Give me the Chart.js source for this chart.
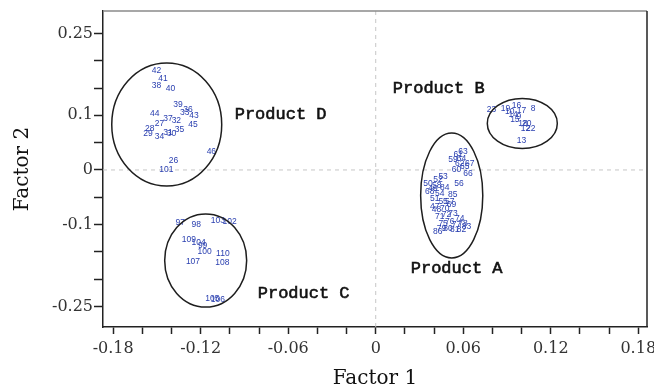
<!DOCTYPE html>
<html>
<head>
<meta charset="utf-8">
<script src="https://cdn.jsdelivr.net/npm/chart.js@4/dist/chart.umd.min.js"></script>
<style>
  html, body { margin: 0; padding: 0; background: #fff; }
  #wrap { width: 654px; height: 391px; }
</style>
</head>
<body>
<div id="wrap"><canvas id="c" width="654" height="391"></canvas></div>
<script>
// Factor scores (Factor 1, Factor 2) for each sample, grouped by product
const productAIds = [61,63,59,62,65,66,60,64,67,50,52,53,49,54,51,55,56,57,48,70,71,72,73,74,75,76,77,78,79,80,81,82,83,69,47,58,68,84,85,86];
const productAF1 = [0.0565,0.0599,0.0530,0.0576,0.0611,0.0633,0.0554,0.0588,0.0645,0.0359,0.0427,0.0462,0.0393,0.0439,0.0405,0.0462,0.0571,0.0508,0.0416,0.0473,0.0439,0.0485,0.0530,0.0576,0.0462,0.0508,0.0554,0.0599,0.0451,0.0496,0.0542,0.0588,0.0622,0.0519,0.0405,0.0418,0.0370,0.0473,0.0528,0.0425];
const productAF2 = [0.0275,0.0335,0.0183,0.0123,0.0060,-0.0060,0.0000,0.0214,0.0123,-0.0244,-0.0183,-0.0123,-0.0335,-0.0427,-0.0518,-0.0581,-0.0256,-0.0581,-0.0733,-0.0702,-0.0856,-0.0824,-0.0793,-0.0885,-0.0976,-0.0947,-0.1008,-0.0976,-0.1068,-0.1068,-0.1086,-0.1086,-0.1039,-0.0641,-0.0672,-0.0293,-0.0403,-0.0330,-0.0458,-0.1136];

const productBIds = [23,19,16,17,8,10,14,15,18,12,22,13,9,20];
const productBF1 = [0.0794,0.0890,0.0965,0.1000,0.1079,0.0919,0.0942,0.0954,0.1010,0.1027,0.1063,0.1000,0.0981,0.1036];
const productBF2 = [0.1099,0.1118,0.1178,0.1081,0.1118,0.1063,0.1008,0.0916,0.0856,0.0764,0.0764,0.0531,0.0971,0.0843];

const productCIds = [97,98,103,102,109,104,99,100,110,107,108,105,106];
const productCF1 = [-0.1340,-0.1230,-0.1082,-0.1002,-0.1281,-0.1214,-0.1187,-0.1173,-0.1048,-0.1253,-0.1052,-0.1120,-0.1082];
const productCF2 = [-0.0958,-0.1008,-0.0929,-0.0947,-0.1282,-0.1337,-0.1392,-0.1497,-0.1526,-0.1680,-0.1691,-0.2363,-0.2382];

const productDIds = [42,41,38,40,39,36,43,33,44,37,32,45,27,28,29,31,35,34,30,46,26,101];
const productDF1 = [-0.1504,-0.1459,-0.1504,-0.1408,-0.1356,-0.1288,-0.1246,-0.1310,-0.1516,-0.1425,-0.1367,-0.1253,-0.1482,-0.1550,-0.1562,-0.1425,-0.1345,-0.1482,-0.1401,-0.1127,-0.1386,-0.1436];
const productDF2 = [0.1813,0.1667,0.1544,0.1497,0.1204,0.1099,0.0989,0.1044,0.1039,0.0947,0.0898,0.0837,0.0856,0.0751,0.0672,0.0691,0.0733,0.0610,0.0660,0.0335,0.0165,0.0013];

// Product names
const productNames = ['Product A', 'Product B', 'Product C', 'Product D'];

// Axis ticks and labels
const xTickValues = [-0.18,-0.16,-0.14,-0.12,-0.10,-0.08,-0.06,-0.04,-0.02,0,0.02,0.04,0.06,0.08,0.10,0.12,0.14,0.16,0.18];
const xLabelValues = [-0.18,-0.12,-0.06,0,0.06,0.12,0.18];
const xTickLabels = ['-0.18','-0.12','-0.06','0','0.06','0.12','0.18'];
const yTickValues = [-0.25,-0.20,-0.15,-0.10,-0.05,0,0.05,0.10,0.15,0.20,0.25];
const yLabelValues = [-0.25,-0.1,0,0.1,0.25];
const yTickLabels = ['-0.25','-0.1','0','0.1','0.25'];

// Group outlines (centre and half-axes in factor units) and where each group name sits
const groupOutlines = [
  { cx: 0.0521, cy: -0.0467, rx: 0.0213, ry: 0.1145 },
  { cx: 0.1005, cy: 0.0852, rx: 0.0240, ry: 0.0458 },
  { cx: -0.1166, cy: -0.1658, rx: 0.0281, ry: 0.0852 },
  { cx: -0.1433, cy: 0.0833, rx: 0.0377, ry: 0.1126 }
];
const groupNameAnchors = [
  { x: 0.0240, y: -0.1795 },
  { x: 0.0117, y: 0.1500 },
  { x: -0.0809, y: -0.2253 },
  { x: -0.0967, y: 0.1007 }
];

function toPoints(f1, f2) {
  return f1.map((v, i) => ({ x: v, y: f2[i] }));
}
function labelFrom(values, labels, v) {
  const i = values.findIndex(t => Math.abs(t - v) < 1e-9);
  return i >= 0 ? labels[i] : '';
}

const sampleColor = '#2b40b0';

const overlay = {
  id: 'overlay',
  beforeDatasetsDraw(chart) {
    const { ctx, chartArea: a, scales: { x, y } } = chart;
    const x0 = x.getPixelForValue(0);
    const y0 = y.getPixelForValue(0);
    ctx.save();
    ctx.strokeStyle = '#c6c6c6';
    ctx.lineWidth = 1;
    ctx.setLineDash([4, 4]);
    ctx.beginPath();
    ctx.moveTo(x0, a.top); ctx.lineTo(x0, a.bottom);
    ctx.moveTo(a.left, y0); ctx.lineTo(a.right, y0);
    ctx.stroke();
    ctx.restore();
  },
  afterDatasetsDraw(chart) {
    const { ctx, scales: { x, y } } = chart;
    ctx.save();
    // sample numbers at each point
    ctx.fillStyle = sampleColor;
    ctx.font = '8.5px "Liberation Sans", Arial, sans-serif';
    ctx.textAlign = 'center';
    ctx.textBaseline = 'middle';
    chart.data.datasets.forEach((ds, di) => {
      const meta = chart.getDatasetMeta(di);
      meta.data.forEach((pt, j) => ctx.fillText(String(ds.ids[j]), pt.x, pt.y));
    });
    // group outlines
    ctx.strokeStyle = '#1e1e1e';
    ctx.lineWidth = 1.5;
    groupOutlines.forEach(g => {
      const cx = x.getPixelForValue(g.cx);
      const cy = y.getPixelForValue(g.cy);
      const rx = Math.abs(x.getPixelForValue(g.cx + g.rx) - cx);
      const ry = Math.abs(y.getPixelForValue(g.cy + g.ry) - cy);
      ctx.beginPath();
      ctx.ellipse(cx, cy, rx, ry, 0, 0, Math.PI * 2);
      ctx.stroke();
    });
    // group names, medium weight
    ctx.fillStyle = '#111';
    ctx.strokeStyle = '#111';
    ctx.lineWidth = 0.6;
    ctx.font = '17px "Liberation Mono", "DejaVu Sans Mono", monospace';
    ctx.textAlign = 'left';
    groupNameAnchors.forEach((p, i) => {
      const px = x.getPixelForValue(p.x);
      const py = y.getPixelForValue(p.y);
      ctx.fillText(productNames[i], px, py);
      ctx.strokeText(productNames[i], px, py);
    });
    ctx.restore();
  },
  afterDraw(chart) {
    const { ctx, chartArea: a } = chart;
    ctx.save();
    ctx.lineWidth = 1.5;
    ctx.strokeStyle = '#8a8a8a';
    ctx.beginPath(); ctx.moveTo(a.left, a.top); ctx.lineTo(a.right, a.top); ctx.stroke();
    ctx.strokeStyle = '#222';
    ctx.beginPath(); ctx.moveTo(a.right, a.top); ctx.lineTo(a.right, a.bottom); ctx.stroke();
    ctx.restore();
  }
};

const tickFont = { family: '"DejaVu Serif", serif', size: 16 };
const titleFont = { family: '"DejaVu Serif", serif', size: 20 };

new Chart(document.getElementById('c'), {
  type: 'scatter',
  data: {
    datasets: [
      { label: productNames[0], ids: productAIds, data: toPoints(productAF1, productAF2) },
      { label: productNames[1], ids: productBIds, data: toPoints(productBF1, productBF2) },
      { label: productNames[2], ids: productCIds, data: toPoints(productCF1, productCF2) },
      { label: productNames[3], ids: productDIds, data: toPoints(productDF1, productDF2) }
    ]
  },
  options: {
    responsive: false,
    devicePixelRatio: 1,
    animation: false,
    events: [],
    elements: { point: { radius: 0, hoverRadius: 0 } },
    layout: { padding: { top: 11, right: 7, left: 0, bottom: 0 } },
    plugins: { legend: { display: false }, tooltip: { enabled: false } },
    scales: {
      x: {
        type: 'linear',
        min: -0.187,
        max: 0.186,
        afterBuildTicks: s => { s.ticks = xTickValues.map(v => ({ value: v })); },
        afterFit: s => { s.height = 64; s.paddingLeft = 0; s.paddingRight = 0; },
        grid: { display: true, drawOnChartArea: false, drawTicks: true, tickLength: 7, tickColor: '#222', tickWidth: 1.5 },
        border: { display: true, color: '#222', width: 1.5 },
        ticks: {
          autoSkip: false, maxRotation: 0, padding: 5, color: '#333', font: tickFont,
          callback: v => labelFrom(xLabelValues, xTickLabels, v)
        },
        title: { display: true, text: 'Factor 1', color: '#111', font: titleFont, padding: { top: 0, bottom: 0 } }
      },
      y: {
        type: 'linear',
        min: -0.2875,
        max: 0.291,
        afterBuildTicks: s => { s.ticks = yTickValues.map(v => ({ value: v })); },
        afterFit: s => { s.width = 103; s.paddingTop = 0; s.paddingBottom = 0; },
        grid: { display: true, drawOnChartArea: false, drawTicks: true, tickLength: 9, tickColor: '#222', tickWidth: 1.5 },
        border: { display: true, color: '#222', width: 1.5 },
        ticks: {
          autoSkip: false, padding: 1, color: '#333', font: tickFont,
          callback: v => labelFrom(yLabelValues, yTickLabels, v)
        },
        title: { display: true, text: 'Factor 2', color: '#111', font: titleFont, padding: { top: 11, bottom: 0 } }
      }
    }
  },
  plugins: [overlay]
});
</script>
</body>
</html>
